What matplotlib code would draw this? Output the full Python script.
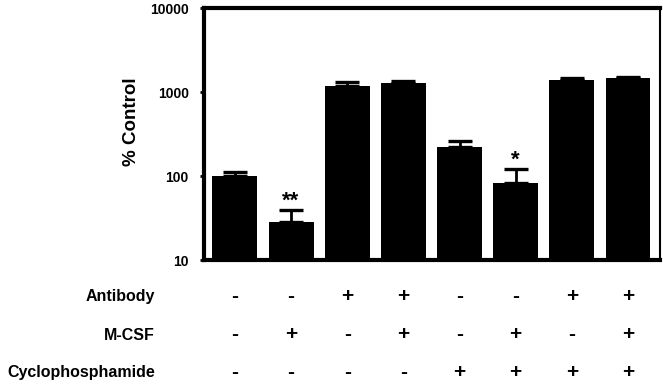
import numpy as np
import matplotlib.pyplot as plt

plt.rcParams['font.family'] = ['Liberation Sans', 'DejaVu Sans']
plt.rcParams['font.weight'] = 'bold'

# % control values and upper error (top of error bar)
values = [100, 28.5, 1180, 1280, 220, 82, 1380, 1480]
err_top = [112, 39, 1320, 1340, 261, 121, 1470, 1520]
stars = ['', '**', '', '', '', '*', '', '']

row_names = ['Antibody', 'M-CSF', 'Cyclophosphamide']
antibody = ['-', '-', '+', '+', '-', '-', '+', '+']
mcsf = ['-', '+', '-', '+', '-', '+', '-', '+']
cyclo = ['-', '-', '-', '-', '+', '+', '+', '+']

x = np.arange(len(values))
upper = np.array(err_top) - np.array(values)
yerr = [np.zeros(len(values)), upper]

fig = plt.figure(figsize=(6.63, 3.84), dpi=100)
ax = fig.add_axes([204 / 663, 1 - 260 / 384, 456 / 663, 252 / 384])

ax.bar(x, values, width=0.8, color='black', bottom=0)
ax.errorbar(x, values, yerr=yerr, fmt='none', ecolor='black',
            elinewidth=2, capsize=8.5, capthick=2.4)

for i, s in enumerate(stars):
    if s:
        ax.annotate(s, (x[i], err_top[i]), xytext=(0, -1), textcoords='offset points',
                    ha='center', va='bottom', fontsize=16, fontweight='bold')

ax.set_yscale('log')
ax.set_ylim(10, 10000)
ax.set_xlim(-0.55, 7.57)
ax.set_yticks([10, 100, 1000, 10000])
ax.set_yticklabels(['10', '100', '1000', '10000'], fontsize=10, fontweight='bold')
ax.yaxis.set_minor_locator(plt.NullLocator())
ax.tick_params(axis='y', direction='out', length=3, width=2, pad=8)
ax.set_xticks([])
ax.set_ylabel('% Control', fontsize=13.5, fontweight='bold')
ax.yaxis.set_label_coords(-0.14, 0.55)

for side in ['left', 'top', 'bottom']:
    ax.spines[side].set_linewidth(3)
ax.spines['right'].set_linewidth(1.5)

# treatment table under the bars
rows = [antibody, mcsf, cyclo]
row_y = [297, 335, 373]
for name, signs, yp in zip(row_names, rows, row_y):
    fy = 1 - yp / 384
    fig.text(155 / 663, fy, name, ha='right', va='center', fontsize=11.5, fontweight='bold')
    for i, s in enumerate(signs):
        xd = ax.transData.transform((x[i], 10))[0]
        xf = fig.transFigure.inverted().transform((xd, 0))[0]
        fig.text(xf, fy, s, ha='center', va='center', fontsize=15, fontweight='bold')

fig.savefig('out.png', dpi=100)
